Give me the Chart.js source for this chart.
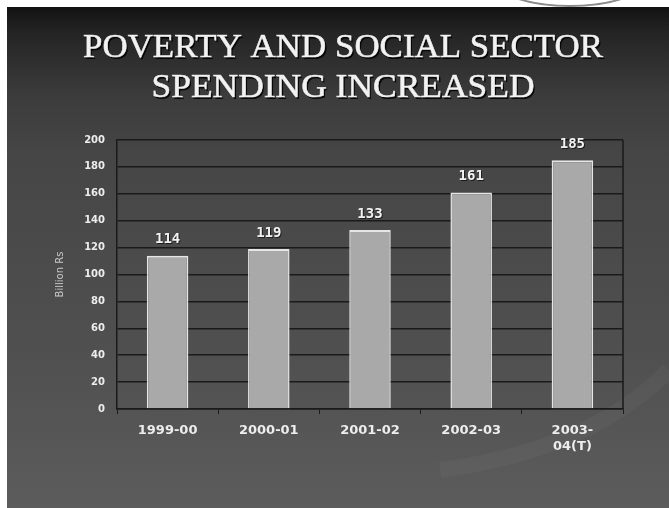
<!DOCTYPE html>
<html>
<head>
<meta charset="utf-8">
<script src="https://cdn.jsdelivr.net/npm/chart.js@4.4.1/dist/chart.umd.min.js"></script>
<style>
  html, body { margin: 0; padding: 0; background: #fff; }
  #wrap { width: 669px; height: 508px; position: relative; }
</style>
</head>
<body>
<div id="wrap"><canvas id="myChart" width="669" height="508"></canvas></div>
<script>
// data
const years = ["1999-00", "2000-01", "2001-02", "2002-03", ["2003-", "04(T)"]];
const spending = [114, 119, 133, 161, 185];
const yTicks = [0, 20, 40, 60, 80, 100, 120, 140, 160, 180, 200];
const titleLines = ["POVERTY AND SOCIAL SECTOR", "SPENDING INCREASED"];
const yTitle = "Billion Rs";

// slide background: dark gradient, white margins on top and left
const slideBg = {
  id: 'slideBg',
  beforeDraw(chart) {
    const c = chart.ctx;
    const w = chart.width, h = chart.height;
    c.save();
    c.fillStyle = '#ffffff';
    c.fillRect(0, 0, w, h);
    const g = c.createLinearGradient(0, 7, 0, h);
    g.addColorStop(0, '#121212');
    g.addColorStop(0.05, '#242424');
    g.addColorStop(0.18, '#3c3c3c');
    g.addColorStop(0.3, '#464646');
    g.addColorStop(0.7, '#505050');
    g.addColorStop(1, '#5c5c5c');
    c.fillStyle = g;
    c.fillRect(7, 7, w - 7, h - 7);
    // faint swoosh on the lower right
    c.strokeStyle = 'rgba(255,255,255,0.03)';
    c.lineWidth = 16;
    c.beginPath();
    c.moveTo(w, 370);
    c.quadraticCurveTo(590, 450, 440, 470);
    c.stroke();
    // edge of the emblem peeking in at the top
    c.beginPath();
    c.rect(0, 0, w, 7);
    c.clip();
    c.strokeStyle = '#8a8a8a';
    c.lineWidth = 2;
    c.beginPath();
    c.ellipse(570, -20, 75, 26, 0, 0, Math.PI);
    c.stroke();
    c.restore();
  }
};

// two-line serif heading
const heading = {
  id: 'heading',
  afterDraw(chart) {
    const c = chart.ctx;
    c.save();
    c.font = '33px "Liberation Serif", "DejaVu Serif", serif';
    c.textAlign = 'center';
    c.textBaseline = 'alphabetic';
    const widths = [520, 383];
    const bases = [57, 97];
    titleLines.forEach(function(t, i) {
      const m = c.measureText(t).width;
      const sx = widths[i] / m;
      c.save();
      c.translate(343, bases[i]);
      c.scale(sx, 1);
      c.fillStyle = 'rgba(0,0,0,0.85)';
      c.fillText(t, 1.5, 1.5);
      c.strokeStyle = '#dcdcdc';
      c.lineWidth = 0.6;
      c.strokeText(t, 0, 0);
      c.fillStyle = '#f2f2f2';
      c.fillText(t, 0, 0);
      c.restore();
    });
    c.restore();
  }
};

// frame, value labels and axis title
const extras = {
  id: 'extras',
  afterDatasetsDraw(chart) {
    const c = chart.ctx;
    const a = chart.chartArea;
    c.save();
    c.strokeStyle = '#1a1a1a';
    c.lineWidth = 1.5;
    c.beginPath();
    c.moveTo(a.right, a.top);
    c.lineTo(a.right, a.bottom);
    c.stroke();

    const meta = chart.getDatasetMeta(0);
    c.font = 'bold 14px "DejaVu Sans Mono", monospace';
    c.textAlign = 'center';
    c.textBaseline = 'bottom';
    meta.data.forEach(function(bar, i) {
      c.fillStyle = 'rgba(0,0,0,0.6)';
      c.fillText(spending[i], bar.x + 1, bar.y - 8);
      c.fillStyle = '#f2f2f2';
      c.fillText(spending[i], bar.x, bar.y - 9);
    });

    c.translate(60, (a.top + a.bottom) / 2);
    c.rotate(-Math.PI / 2);
    c.font = '10px "DejaVu Sans", sans-serif';
    c.fillStyle = '#c8c8c8';
    c.textBaseline = 'middle';
    c.fillText(yTitle, 0, 0);
    c.restore();
  }
};

const ctx = document.getElementById('myChart').getContext('2d');

const chart = new Chart(ctx, {
  type: 'bar',
  data: {
    labels: years,
    datasets: [{
      data: spending,
      backgroundColor: '#a9a9a9',
      borderColor: '#e6e6e6',
      borderWidth: { left: 1.5, right: 1.5, top: 2, bottom: 0 },
      borderSkipped: false,
      categoryPercentage: 1,
      barPercentage: 0.41
    }]
  },
  options: {
    responsive: false,
    animation: false,
    layout: { padding: { left: 0, right: 46, top: 140, bottom: 39 } },
    plugins: {
      legend: { display: false },
      title: { display: false },
      tooltip: { enabled: false }
    },
    scales: {
      x: {
        offset: true,
        grid: {
          offset: true,
          drawOnChartArea: false,
          color: '#1a1a1a',
          tickLength: 5
        },
        border: { color: '#1a1a1a', width: 1.5 },
        ticks: {
          color: '#ededed',
          font: { family: '"DejaVu Sans", sans-serif', weight: 'bold', size: 13 },
          padding: 9,
          maxRotation: 0,
          autoSkip: false
        },
        afterFit(scale) { scale.height = 60; }
      },
      y: {
        min: 0,
        max: 200,
        afterBuildTicks(scale) {
          scale.ticks = yTicks.map(function(v) { return { value: v }; });
        },
        grid: {
          color: '#1a1a1a',
          lineWidth: 1.5,
          drawTicks: false
        },
        border: { color: '#1a1a1a', width: 1.5 },
        ticks: {
          color: '#ededed',
          font: { family: '"DejaVu Sans", sans-serif', weight: 'bold', size: 10 },
          padding: 12
        },
        afterFit(scale) { scale.width = 117; }
      }
    }
  },
  plugins: [slideBg, extras, heading]
});
</script>
</body>
</html>
